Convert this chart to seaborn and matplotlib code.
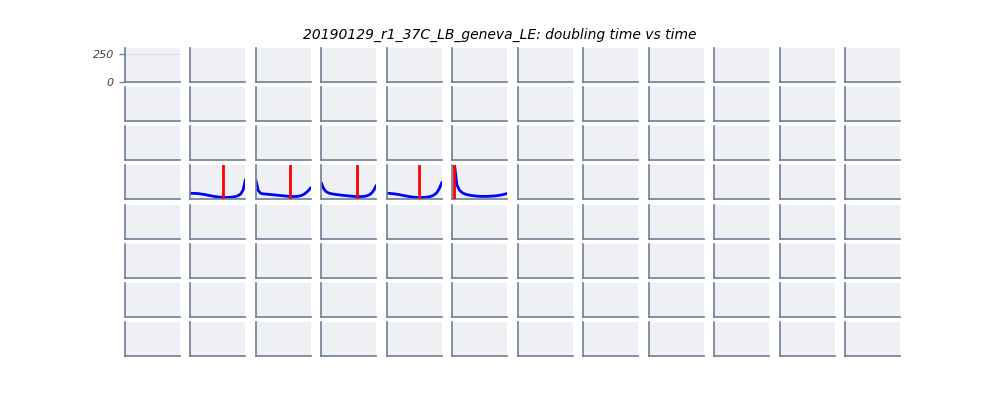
import matplotlib
matplotlib.use("Agg")
import matplotlib.pyplot as plt
import seaborn as sns
import pandas as pd

# plate layout
rows = ["A", "B", "C", "D", "E", "F", "G", "H"]
cols = list(range(1, 13))

# time (h) and doubling time (min) for the wells that have data
time_h = list(range(0, 25))
dt_D2 = [55, 54, 53, 52, 50, 47, 44, 40, 36, 32, 28, 25, 22, 20, 19, 18, 18, 19, 20, 23, 28, 36, 50, 85, 175]
dt_D3 = [170, 80, 55, 50, 48, 46, 44, 42, 40, 38, 36, 34, 32, 30, 28, 27, 26, 26, 27, 30, 36, 46, 62, 80, 105]
dt_D4 = [145, 95, 70, 58, 52, 48, 45, 42, 40, 37, 35, 33, 31, 29, 27, 26, 25, 25, 26, 28, 33, 42, 58, 85, 125]
dt_D5 = [55, 54, 52, 50, 47, 44, 40, 36, 32, 28, 25, 22, 20, 18, 17, 17, 18, 19, 22, 26, 33, 45, 65, 100, 150]
dt_D6 = [700, 300, 130, 85, 65, 52, 45, 40, 36, 33, 31, 29, 28, 27, 27, 27, 28, 29, 30, 32, 35, 38, 42, 47, 52]

wells = {"D2": dt_D2, "D3": dt_D3, "D4": dt_D4, "D5": dt_D5, "D6": dt_D6}
# time of max growth (h)
max_growth = {"D2": 14.4, "D3": 14.9, "D4": 15.4, "D5": 13.9, "D6": 0.9}

sns.set_style("darkgrid", {"axes.facecolor": "#eff0f4", "grid.color": "#d5d9e0",
                           "axes.edgecolor": "#6f7f93"})

fig, axes = plt.subplots(8, 12, figsize=(10, 4), dpi=100)
fig.subplots_adjust(left=0.125, right=0.9, top=0.88, bottom=0.11, wspace=0.19, hspace=0.15)

for i, r in enumerate(rows):
    for j, c in enumerate(cols):
        ax = axes[i, j]
        name = f"{r}{c}"
        if name in wells:
            df = pd.DataFrame({"time": time_h, "dt": wells[name]})
            sns.lineplot(data=df, x="time", y="dt", ax=ax, color="blue", lw=2)
            ax.axvline(max_growth[name], color="red", lw=2, zorder=5)
        ax.set_xlim(0, 24)
        ax.set_ylim(0, 300)
        ax.set_xlabel("")
        ax.set_ylabel("")
        ax.set_xticks([])
        for s in ["top", "right"]:
            ax.spines[s].set_visible(False)
        for s in ["left", "bottom"]:
            ax.spines[s].set_visible(True)
            ax.spines[s].set_linewidth(1.2)
        if i == 0 and j == 0:
            ax.set_yticks([0, 250])
            ax.set_yticklabels(["0", "250"], fontsize=8, style="italic", color="#444444")
            ax.tick_params(axis="y", left=True, length=4, width=1, color="#6f7f93", pad=4)
            ax.grid(axis="y", lw=0.8)
            ax.grid(axis="x", visible=False)
        else:
            ax.set_yticks([])
            ax.grid(False)

fig.suptitle("20190129_r1_37C_LB_geneva_LE: doubling time vs time", fontsize=10,
             style="italic", color="black", y=0.93)
fig.savefig("out.png")
